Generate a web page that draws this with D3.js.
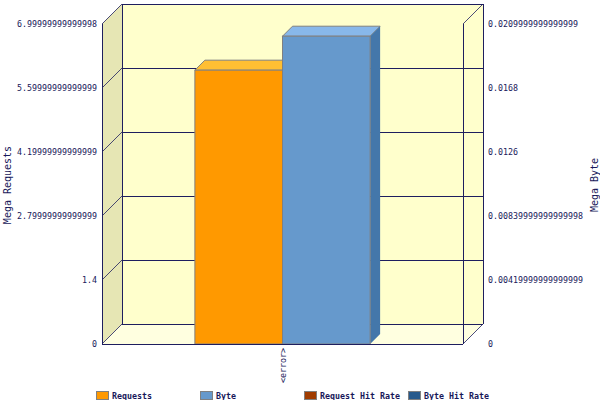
<!DOCTYPE html>
<html>
<head>
<meta charset="utf-8">
<script src="https://cdn.jsdelivr.net/npm/d3@7"></script>
<style>
body { margin: 0; background: #fff; }
text { font-family: "DejaVu Sans Mono", monospace; fill: #18185a; }
</style>
</head>
<body>
<script>
var categories = ["<error>"];
var seriesNames = ["Requests", "Byte", "Request Hit Rate", "Byte Hit Rate"];
var seriesColors = ["#ff9900", "#6699cc", "#a03c00", "#285a8c"];
var requests = [5.99];
var bytes = [0.0202];
var leftTicks = ["0", "1.4", "2.79999999999999", "4.19999999999999", "5.59999999999999", "6.99999999999998"];
var rightTicks = ["0", "0.00419999999999999", "0.00839999999999998", "0.0126", "0.0168", "0.0209999999999999"];

var W = 600, H = 400;
var plotLeft = 102, plotRight = 463, plotTop = 24, plotBottom = 344;
var depth = 20, barDepth = 10;
var ink = "#1e1e5e";

var svg = d3.select("body").append("svg").attr("width", W).attr("height", H);

var yL = d3.scaleLinear().domain([0, +leftTicks[leftTicks.length-1]]).range([plotBottom, plotTop]);
var yR = d3.scaleLinear().domain([0, +rightTicks[rightTicks.length-1]]).range([plotBottom, plotTop]);
var x0 = d3.scaleBand().domain(categories).range([plotLeft, plotRight]).paddingOuter(0.53).paddingInner(0);
var x1 = d3.scaleBand().domain(["Requests", "Byte"]).range([0, x0.bandwidth()]);

// walls
svg.append("rect").attr("x", plotLeft+depth).attr("y", plotTop-depth)
	.attr("width", plotRight-plotLeft).attr("height", plotBottom-plotTop).attr("fill", "#ffffcc");
svg.append("polygon")
	.attr("points", [[plotLeft,plotTop],[plotLeft+depth,plotTop-depth],[plotLeft+depth,plotBottom-depth],[plotLeft,plotBottom]].join(" "))
	.attr("fill", "#e6e6b4");
svg.append("polygon")
	.attr("points", [[plotLeft,plotBottom],[plotLeft+depth,plotBottom-depth],[plotRight+depth,plotBottom-depth],[plotRight,plotBottom]].join(" "))
	.attr("fill", "#ffffe0");

function line(x1, y1, x2, y2, w){
	svg.append("line").attr("x1", x1).attr("y1", y1).attr("x2", x2).attr("y2", y2)
		.attr("stroke", ink).attr("stroke-width", w || 1);
}

// grid
leftTicks.forEach(function(t){
	var y = yL(+t);
	line(plotLeft+depth, y-depth+0.5, plotRight+depth, y-depth+0.5);
	line(plotLeft, y, plotLeft+depth, y-depth, 0.8);
});
line(plotLeft+depth+0.5, plotTop-depth, plotLeft+depth+0.5, plotBottom-depth);
line(plotRight+depth+0.5, plotTop-depth, plotRight+depth+0.5, plotBottom-depth);
line(plotRight+depth, plotTop-depth, plotRight, plotTop, 0.8);
line(plotRight+depth, plotBottom-depth, plotRight, plotBottom, 0.8);

// bars
function bar(x, w, y, c, cTop, cSide){
	var g = svg.append("g");
	g.append("polygon")
		.attr("points", [[x,y],[x+barDepth,y-barDepth],[x+w+barDepth,y-barDepth],[x+w,y]].join(" "))
		.attr("fill", cTop).attr("stroke", "#808080").attr("stroke-width", 1);
	g.append("polygon")
		.attr("points", [[x+w,y],[x+w+barDepth,y-barDepth],[x+w+barDepth,plotBottom-barDepth],[x+w,plotBottom]].join(" "))
		.attr("fill", cSide);
	g.append("rect").attr("x", x).attr("y", y).attr("width", w).attr("height", plotBottom-y)
		.attr("fill", c).attr("stroke", "#808080").attr("stroke-width", 1);
}
categories.forEach(function(c, i){
	var xb = x0(c);
	bar(xb + x1("Requests"), x1.bandwidth(), yL(requests[i]), "#ff9900", "#ffbf33", "#cc7a00");
	bar(xb + x1("Byte"), x1.bandwidth(), yR(bytes[i]), "#6699cc", "#88b8ea", "#4477aa");
});

// front axes
line(plotLeft+0.5, plotTop, plotLeft+0.5, plotBottom);
line(plotRight+0.5, plotTop, plotRight+0.5, plotBottom);
line(plotLeft, plotBottom+0.5, plotRight, plotBottom+0.5);

// tick labels
svg.selectAll(".tl").data(leftTicks).enter().append("text")
	.attr("x", 97).attr("y", function(d){ return yL(+d); })
	.attr("dy", "0.35em").attr("text-anchor", "end")
	.style("font-size", "8.3px").text(function(d){ return d; });
svg.selectAll(".tr").data(rightTicks).enter().append("text")
	.attr("x", 488).attr("y", function(d){ return yR(+d); })
	.attr("dy", "0.35em").attr("text-anchor", "start")
	.style("font-size", "8.3px").text(function(d){ return d; });

// category labels
categories.forEach(function(c){
	var cx = x0(c) + x0.bandwidth()/2;
	svg.append("text").attr("transform", "translate(" + (cx+3) + "," + (plotBottom+4) + ") rotate(-90)")
		.attr("text-anchor", "end").style("font-size", "8.3px").text(c);
});

// axis titles
svg.append("text").attr("transform", "translate(11,185) rotate(-90)")
	.attr("text-anchor", "middle").style("font-size", "10px").text("Mega Requests");
svg.append("text").attr("transform", "translate(598,185) rotate(-90)")
	.attr("text-anchor", "middle").style("font-size", "10px").text("Mega Byte");

// legend
var leg = svg.selectAll(".leg").data(seriesNames).enter().append("g")
	.attr("transform", function(d, i){ return "translate(" + (96 + i*104) + ",391)"; });
leg.append("rect").attr("x", 0.5).attr("y", 0.5).attr("width", 12).attr("height", 8)
	.attr("fill", function(d, i){ return seriesColors[i]; })
	.attr("stroke", "#808080").attr("stroke-width", 1);
leg.append("text").attr("x", 16).attr("y", 8)
	.style("font-size", "8.3px").style("font-weight", "bold").text(function(d){ return d; });
</script>
</body>
</html>
